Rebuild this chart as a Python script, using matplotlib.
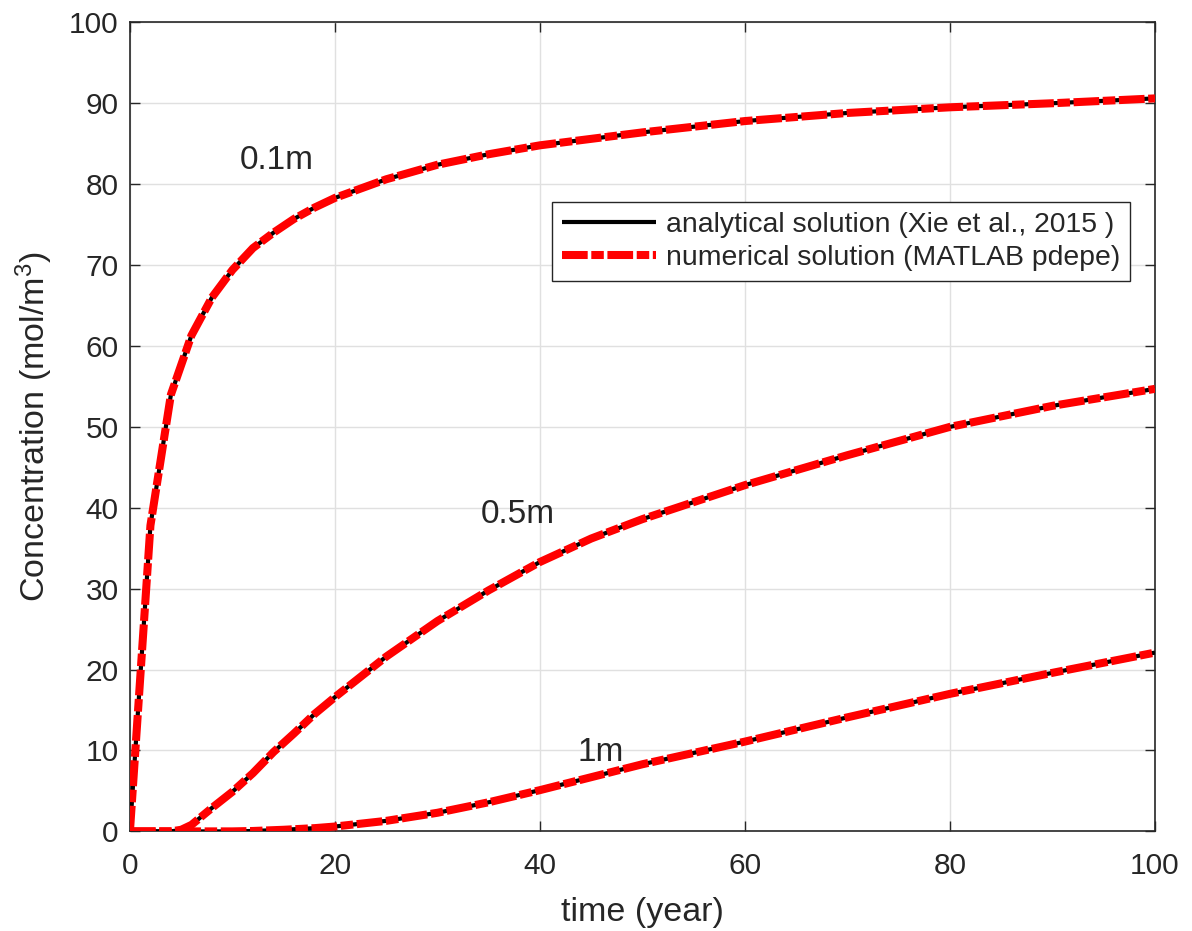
import matplotlib
matplotlib.use("Agg")
import matplotlib.pyplot as plt

# values (time in years, concentration in mol/m3)
t_01 = [0, 2, 4, 6, 8, 10, 12, 14, 16, 18, 20, 25, 30, 35, 40, 50, 60, 70, 80, 90, 100]
c_01 = [0, 37.8, 54.0, 61.3, 66.0, 69.4, 72.1, 74.0, 75.7, 77.1, 78.3, 80.6, 82.4, 83.7,
        84.8, 86.4, 87.8, 88.8, 89.5, 90.0, 90.6]

t_05 = [0, 2, 4, 5, 6, 8, 10, 12, 14, 16, 18, 20, 25, 30, 35, 40, 45, 50, 60, 70, 80, 90, 100]
c_05 = [0, 0, 0, 0.2, 0.8, 2.9, 4.9, 7.2, 9.8, 12.1, 14.5, 16.6, 21.6, 26.0, 29.8, 33.3,
        36.2, 38.6, 42.8, 46.5, 50.0, 52.6, 54.7]

t_1 = [0, 5, 10, 12, 15, 18, 20, 25, 30, 35, 40, 45, 50, 60, 70, 80, 90, 100]
c_1 = [0, 0, 0, 0.05, 0.2, 0.4, 0.6, 1.3, 2.3, 3.6, 5.1, 6.7, 8.3, 11.1, 14.1, 17.0, 19.6, 22.1]

series = [(t_01, c_01), (t_05, c_05), (t_1, c_1)]
depth_labels = ["0.1m", "0.5m", "1m"]
label_pos = [(14.3, 82.9), (37.8, 39.2), (45.9, 9.7)]

plt.rcParams["font.family"] = ["Liberation Sans", "DejaVu Sans"]
plt.rcParams["mathtext.fontset"] = "custom"
plt.rcParams["mathtext.rm"] = "Liberation Sans"
plt.rcParams["mathtext.default"] = "regular"
plt.rcParams["lines.scale_dashes"] = False

dark = "#262626"

fig = plt.figure(figsize=(11.92, 9.31), dpi=100)
ax = fig.add_axes([0.109, 0.107, 0.860, 0.869])

for i, (t, c) in enumerate(series):
    ax.plot(t, c, color="black", lw=3.0, solid_capstyle="butt",
            label="analytical solution (Xie et al., 2015 )" if i == 0 else None, zorder=3)
for i, (t, c) in enumerate(series):
    ax.plot(t, c, color="#ff0000", lw=5.8, dashes=(18.5, 2.6, 9.0, 2.6),
            dash_capstyle="butt",
            label="numerical solution (MATLAB pdepe)" if i == 0 else None, zorder=4)

for txt, (x, y) in zip(depth_labels, label_pos):
    ax.text(x, y, txt, fontsize=24, color=dark, ha="center", va="center")

ax.set_xlim(0, 100)
ax.set_ylim(0, 100)
ax.set_xticks(range(0, 101, 20))
ax.set_yticks(range(0, 101, 10))
ax.grid(True, color="#e0e0e0", lw=1.0)
ax.set_axisbelow(True)
ax.tick_params(direction="in", length=7, width=1, labelsize=21.5, colors=dark,
               top=True, right=True)
ax.tick_params(axis="x", pad=15)
ax.tick_params(axis="y", pad=8)
for s in ax.spines.values():
    s.set_color(dark)
    s.set_linewidth(1.2)

ax.set_xlabel("time (year)", fontsize=24.5, color=dark, labelpad=12)
ax.set_ylabel("Concentration (mol/m$^3$)", fontsize=24.5, color=dark, labelpad=10)

leg = ax.legend(loc="upper left", bbox_to_anchor=(0.412, 0.778), fontsize=20.4,
                frameon=True, fancybox=False, edgecolor=dark, framealpha=1,
                handlelength=3.3, handletextpad=0.35, borderpad=0.35, labelspacing=0.25,
                borderaxespad=0)
leg.get_frame().set_linewidth(1.0)
for txt in leg.get_texts():
    txt.set_color(dark)

fig.savefig("out.png", dpi=100)
